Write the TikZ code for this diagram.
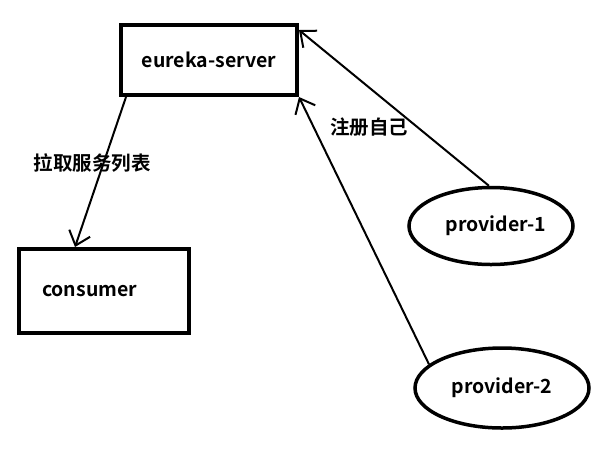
\documentclass[tikz,border=0pt]{standalone}
\usepackage{fontspec}
\setmainfont{Noto Sans CJK SC Bold}
\usetikzlibrary{shapes.geometric,arrows.meta}

\begin{document}
\begin{tikzpicture}[x=1pt,y=-1pt,
    font=\fontsize{19.5}{21}\selectfont,
    box/.style={rectangle, draw, line width=4pt, minimum width=176pt, minimum height=70pt},
    prov/.style={ellipse, draw, line width=3.5pt, inner sep=0pt},
    link/.style={line width=2pt, -{Straight Barb[length=13pt, width=22pt, line width=2pt]}}]
      \useasboundingbox (0,0) rectangle (612,451);

      \node at(209,60) [box] (server) {eureka-server};
      \node at(104,291) [box, minimum width=170pt, minimum height=84pt,
            text width=124pt, inner xsep=23pt, align=left] (consumer) {consumer};

      \node at(491,226) [prov, minimum width=164pt, minimum height=77pt] (provider1) {\hspace{10pt}provider-1};
      \node at(502,388) [prov, minimum width=174pt, minimum height=80pt] (provider2) {provider-2};

      \node at(92,163) (pull) {拉取服务列表};
      \node at(369,127) (register) {注册自己};

      \draw[link] ([xshift=7pt]server.south west) -- ([xshift=58pt]consumer.north west);
      \draw[link] (provider1.93) -- ([yshift=-7pt]server.north east);
      \draw[link] (provider2.162) -- (server.south east);
\end{tikzpicture}
\end{document}
